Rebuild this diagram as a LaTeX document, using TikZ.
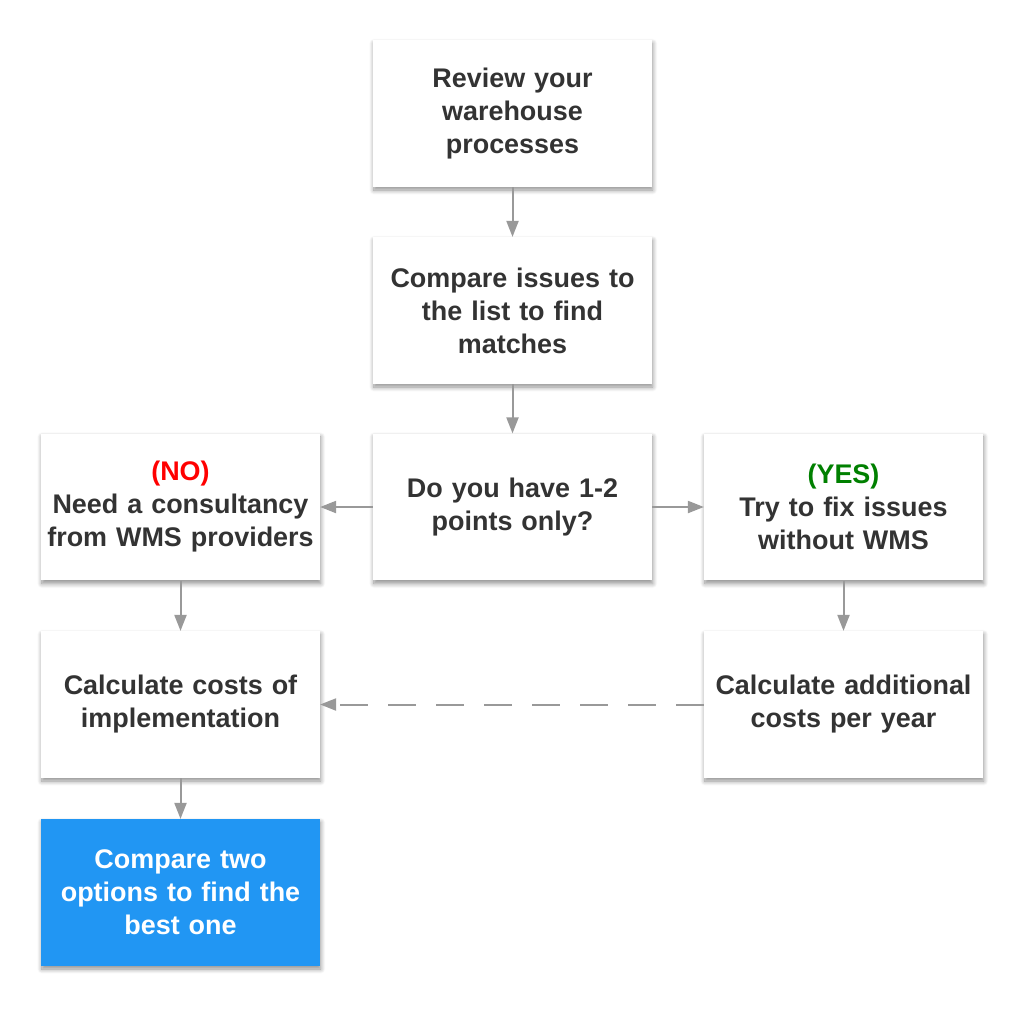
\documentclass[tikz,border=0pt]{standalone}
\usepackage{fontspec}
\setmainfont{Liberation Sans}
\usetikzlibrary{arrows.meta,positioning,shadows.blur}
\definecolor{txtcol}{RGB}{51,51,51}
\definecolor{linecol}{RGB}{153,153,153}
\definecolor{nocol}{RGB}{255,0,0}
\definecolor{yescol}{RGB}{0,128,0}
\definecolor{bluecol}{RGB}{33,150,243}

\begin{document}
\begin{tikzpicture}[
  x=0.75pt, y=-0.75pt,
  >={Triangle[length=12pt,width=9pt]},
  stepbox/.style={rectangle, fill=white, minimum width=209pt, minimum height=110pt,
    inner xsep=2pt, text width=204pt, align=center, text=txtcol,
    font=\bfseries\fontsize{20.2}{24.75}\selectfont,
    blur shadow={shadow xshift=0.6pt, shadow yshift=-2.4pt, shadow blur radius=3.5pt,
      shadow blur steps=8, shadow opacity=45}},
  flow/.style={->, draw=linecol, line width=1.5pt},
]
\useasboundingbox (0,0) rectangle (1024,1017);
% --- the boxes ---
\node[stepbox] (review)  at (512.5,113.5) {Review your\\warehouse\\processes};
\node[stepbox] (compare) at (512.5,310.5) {Compare issues to\\the list to find\\matches};
\node[stepbox] (points)  at (512.5,507)   {Do you have 1-2\\points only?};
\node[stepbox] (consult) at (180.5,507)   {{\color{nocol}(NO)}\\Need a consultancy\\from WMS providers};
\node[stepbox] (fix)     at (843.5,507)   {{\color{yescol}(YES)}\\Try to fix issues\\without WMS};
\node[stepbox] (impl)    at (180.5,704.5) {Calculate costs of\\implementation};
\node[stepbox] (addcost) at (843.5,704.5) {Calculate additional\\costs per year};
\node[stepbox, fill=bluecol, text=white] (options) at (180.5,892.5) {Compare two\\options to find the\\best one};

% --- connectors ---
\draw[flow] (review) -- (compare);
\draw[flow] (compare) -- (points);
\draw[flow] (points) -- (consult);
\draw[flow] (points) -- (fix);
\draw[flow] (consult) -- (impl);
\draw[flow] (fix) -- (addcost);
\draw[flow] (impl) -- (options);
\draw[flow, dash pattern=on 21pt off 15pt] (addcost) -- (impl);
\end{tikzpicture}
\end{document}
